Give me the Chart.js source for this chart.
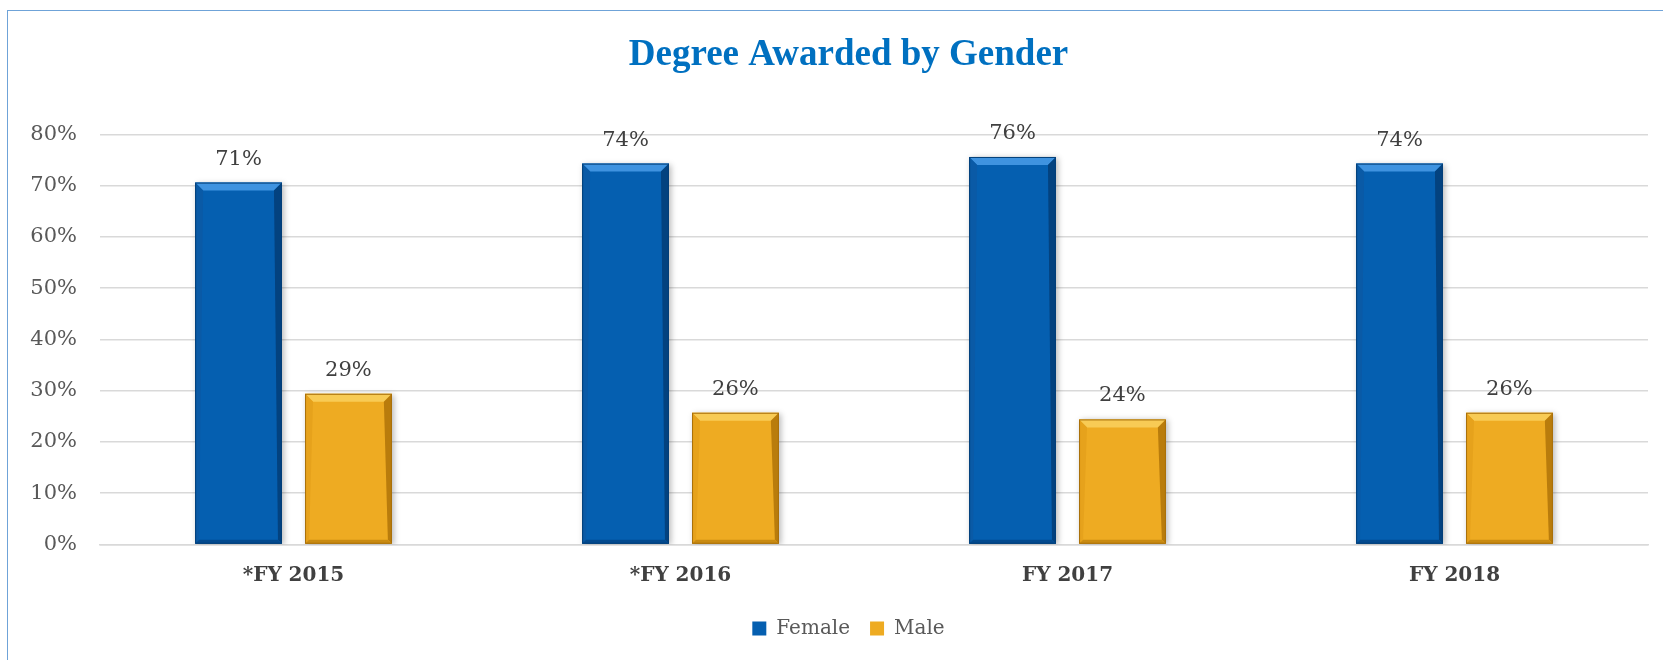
<!DOCTYPE html>
<html lang="en">

<head>
    <meta charset="UTF-8">
    <script src="https://cdn.jsdelivr.net/npm/chart.js"></script>
    <style>
        body {
            margin: 0;
            background: #fff;
            overflow: hidden;
        }

        .frame {
            position: absolute;
            left: 7px;
            top: 10px;
            width: 1720px;
            height: 720px;
            border: 1.5px solid #6fa3d8;
        }

        .wrap {
            position: absolute;
            left: 0;
            top: 0;
            width: 1663px;
            height: 660px;
        }
    </style>
</head>

<body>
    <div class="frame"></div>
    <div class="wrap">
        <canvas id="genderChart" width="1663" height="660"></canvas>
    </div>

    <script>
        const categories = ['*FY 2015', '*FY 2016', 'FY 2017', 'FY 2018'];
        const femaleValues = [70.6, 74.3, 75.6, 74.3];
        const maleValues = [29.4, 25.7, 24.4, 25.7];
        const yTicks = [0, 10, 20, 30, 40, 50, 60, 70, 80];

        const serif = "'DejaVu Serif', serif";

        // bevel look for the bars, drawn from the bar elements themselves
        const bevelPlugin = {
            id: 'bevel',
            beforeDatasetsDraw(chart) {
                const ctx = chart.ctx;
                ctx.save();
                ctx.shadowColor = 'rgba(0,0,0,0.28)';
                ctx.shadowBlur = 6;
                ctx.shadowOffsetX = 2;
                ctx.shadowOffsetY = 1;
            },
            afterDatasetsDraw(chart) {
                const ctx = chart.ctx;
                ctx.restore();
                const shades = [
                    { top: '#3f93e0', right: '#03427f', left: '#0a5aa6', bottom: '#034a8e', edge: '#033f78' },
                    { top: '#f8cb55', right: '#b97c0c', left: '#e6a21c', bottom: '#c98b12', edge: '#a86f0a' }
                ];
                chart.data.datasets.forEach((ds, i) => {
                    const s = shades[i];
                    chart.getDatasetMeta(i).data.forEach(bar => {
                        const l = bar.x - bar.width / 2, r = bar.x + bar.width / 2;
                        const t = bar.y, b = bar.base, k = 8;
                        const poly = (pts, c) => {
                            ctx.beginPath();
                            ctx.moveTo(pts[0][0], pts[0][1]);
                            pts.slice(1).forEach(p => ctx.lineTo(p[0], p[1]));
                            ctx.closePath();
                            ctx.fillStyle = c;
                            ctx.fill();
                        };
                        poly([[l, t], [r, t], [r - k, t + k], [l + k, t + k]], s.top);
                        poly([[r, t], [r, b], [r - 4, b - 4], [r - k, t + k]], s.right);
                        poly([[l, t], [l + k, t + k], [l + 4, b - 4], [l, b]], s.left);
                        poly([[l, b], [l + 4, b - 4], [r - 4, b - 4], [r, b]], s.bottom);
                        ctx.strokeStyle = s.edge;
                        ctx.lineWidth = 1;
                        ctx.strokeRect(l + 0.5, t + 0.5, r - l - 1, b - t - 1);
                    });
                });

                // value labels above bars
                ctx.save();
                ctx.font = '21px ' + serif;
                ctx.fillStyle = '#404040';
                ctx.textAlign = 'center';
                ctx.textBaseline = 'alphabetic';
                chart.data.datasets.forEach((ds, i) => {
                    chart.getDatasetMeta(i).data.forEach((bar, j) => {
                        ctx.fillText(Math.round(ds.data[j]) + '%', bar.x, bar.y - 18);
                    });
                });
                ctx.restore();
            }
        };

        // y tick labels drawn outside the (narrowed) axis box, so they are not clipped
        const yLabelPlugin = {
            id: 'yLabels',
            afterDraw(chart) {
                const ctx = chart.ctx;
                const y = chart.scales.y;
                ctx.save();
                ctx.font = '21px ' + serif;
                ctx.fillStyle = '#595959';
                ctx.textAlign = 'right';
                ctx.textBaseline = 'middle';
                y.ticks.forEach(t => {
                    ctx.fillText(t.value + '%', y.right - 23, y.getPixelForValue(t.value));
                });
                ctx.restore();
            }
        };

        new Chart(document.getElementById('genderChart'), {
            type: 'bar',
            data: {
                labels: categories,
                datasets: [{
                    label: 'Female',
                    data: femaleValues,
                    backgroundColor: '#055fb0',
                    borderWidth: 0
                }, {
                    label: 'Male',
                    data: maleValues,
                    backgroundColor: '#eeab22',
                    borderWidth: 0
                }]
            },
            options: {
                responsive: false,
                animation: false,
                datasets: {
                    bar: {
                        categoryPercentage: 0.568,
                        barPercentage: 0.79
                    }
                },
                layout: {
                    padding: { left: 49, right: 15, top: 0, bottom: 11.5 }
                },
                plugins: {
                    title: {
                        display: true,
                        text: 'Degree Awarded by Gender',
                        color: '#0070c0',
                        font: { family: "'Liberation Serif', serif", size: 37, weight: 'bold' },
                        padding: { top: 33, bottom: 57 }
                    },
                    legend: {
                        position: 'bottom',
                        labels: {
                            boxWidth: 14,
                            boxHeight: 14,
                            color: '#595959',
                            font: { family: serif, size: 20 },
                            padding: 20
                        }
                    },
                    tooltip: { enabled: false }
                },
                scales: {
                    x: {
                        grid: { display: false },
                        border: { color: '#d9d9d9', width: 1.5 },
                        ticks: {
                            color: '#404040',
                            font: { family: serif, size: 20, weight: 'bold' },
                            padding: 11
                        }
                    },
                    y: {
                        min: yTicks[0],
                        max: yTicks[yTicks.length - 1],
                        afterBuildTicks: axis => {
                            axis.ticks = yTicks.map(v => ({ value: v }));
                        },
                        // narrow axis box so title and legend centre like the original
                        afterFit: axis => {
                            axis.width = 51;
                        },
                        grid: { color: '#d9d9d9', lineWidth: 1.5, drawTicks: false },
                        border: { display: false },
                        ticks: {
                            color: 'rgba(0,0,0,0)',
                            font: { family: serif, size: 21 },
                            padding: 23,
                            callback: v => v + '%'
                        }
                    }
                }
            },
            plugins: [bevelPlugin, yLabelPlugin]
        });
    </script>

</body>

</html>
